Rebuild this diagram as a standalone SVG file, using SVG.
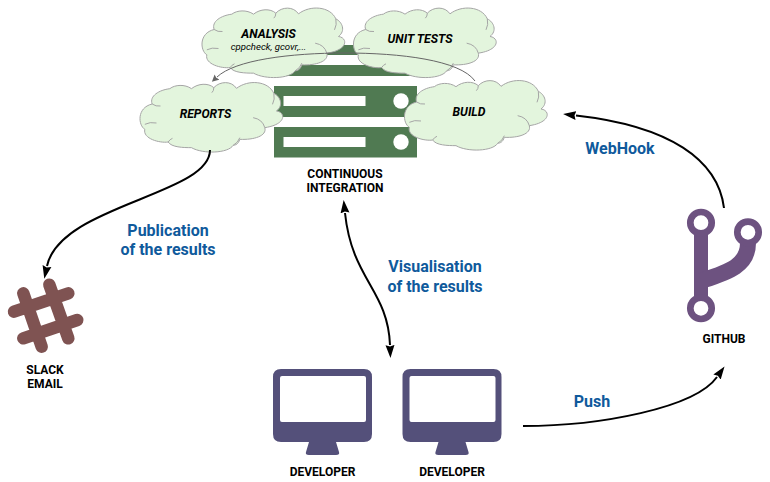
<svg xmlns="http://www.w3.org/2000/svg" width="770" height="482" viewBox="0 0 770 482">
<style>
text{font-family:Roboto,"Liberation Sans",sans-serif;text-anchor:middle}
.n{font-size:12px;font-weight:700;fill:#000}
.c{font-size:12.200px;font-weight:700;font-style:italic;fill:#000}
.l{font-size:16px;font-weight:700;fill:#0f5a9c}
.w{fill:#e3f5dd;stroke:#a5a5a5;stroke-width:3}
.i{fill:none;stroke:#a5a5a5;stroke-width:3}
.a{fill:none;stroke:#000;stroke-width:2}
</style>
<defs>
<marker id="m" markerUnits="userSpaceOnUse" markerWidth="14" markerHeight="10" refX="0" refY="5" orient="auto-start-reverse"><path d="M0 .5L13 5L0 9.500L1.500 5Z" fill="#000"/></marker>
<marker id="s" markerUnits="userSpaceOnUse" markerWidth="8" markerHeight="8" refX="0" refY="4" orient="auto"><path d="M0 .5L7 4L0 7.500L1 4Z" fill="#666"/></marker>
<g id="cloud">
<path class="w" d="M47 84C38 60 68 42 100 38C115 26 145 24 165 38C185 22 215 20 232 35C250 15 285 14 300 37C335 10 395 14 412 52C432 62 442 88 420 105C447 108 452 145 385 155C392 180 352 192 310 190C305 205 298 207 290 208C275 232 200 235 165 215C140 215 105 214 95 198C70 202 18 188 25 160C5 148 0 95 47 84Z"/>
<path class="i" d="M47 84Q58 92 72 90M25 145Q40 137 60 141M95 198Q100 190 108 187M290 208Q305 200 310 185M385 155Q378 130 350 125M412 52Q416 70 408 85M232 35Q232 45 226 50"/>
</g>
</defs>
<g id="ci-server" fill="#507a52">
<rect x="274" y="45" width="143" height="31"/>
<rect x="274" y="86" width="143" height="31"/>
<rect x="274" y="127" width="143" height="30.500"/>
<g fill="#fff"><rect x="283.500" y="55" width="82" height="10"/><rect x="283.500" y="96" width="82" height="10"/><rect x="283.500" y="137" width="82" height="10"/><circle cx="401" cy="60" r="7.700"/><circle cx="401" cy="101" r="7.700"/><circle cx="401" cy="142" r="7.700"/></g>
<text class="n" x="345" y="178">CONTINUOUS</text><text class="n" x="345" y="192">INTEGRATION</text>
</g>
<g id="analysis"><use href="#cloud" transform="translate(198.500,1.500) scale(.3333)"/><text class="c" x="268.500" y="38">ANALYSIS</text><text x="268.500" y="50" font-size="9.600" font-style="italic" fill="#000">cppcheck, gcovr,...</text></g>
<g id="unit-tests"><use href="#cloud" transform="translate(350,1.500) scale(.3333)"/><text class="c" x="420" y="43">UNIT TESTS</text></g>
<g id="reports"><use href="#cloud" transform="translate(136.500,76) scale(.3333)"/><text class="c" x="205.500" y="118">REPORTS</text></g>
<g id="build"><use href="#cloud" transform="translate(401,74) scale(.3333)"/><text class="c" x="469" y="116">BUILD</text></g>
<g id="slack" fill="none" stroke="#7f5352" stroke-width="12.500" stroke-linecap="round">
<path d="M23.300 293.300L41.700 346.700M49.300 284.700L68.300 338.300M14 311.700L68.300 293.300M23.300 338.300L77.300 320"/>
<text class="n" x="45" y="374" fill="#000" stroke="none">SLACK</text><text class="n" x="45" y="388" fill="#000" stroke="none">EMAIL</text>
</g>
<g id="github" fill="none" stroke="#6d5280">
<path stroke-width="14" d="M701 233V298"/><path stroke-width="16" d="M748 243C748 266 728 272 701 281"/>
<circle cx="701" cy="222.700" r="10.700" stroke-width="6.700" fill="#fff"/><circle cx="701" cy="308.300" r="10.700" stroke-width="6.700" fill="#fff"/><circle cx="748" cy="232.300" r="10.700" stroke-width="6.700" fill="#fff"/>
<text class="n" x="724" y="343" stroke="none" fill="#000">GITHUB</text>
</g>
<g id="developer-1"><path fill="#54507a" fill-rule="evenodd" d="M281 369H364Q372 369 372 377V434Q372 442 364 442H336L339 452Q340 455 336 455H309Q305 455 306 452L309 442H281Q273 442 273 434V377Q273 369 281 369ZM282 376Q280 376 280 378V420Q280 422 282 422H364Q366 422 366 420V378Q366 376 364 376Z"/><text class="n" x="322.500" y="476">DEVELOPER</text></g>
<g id="developer-2"><path transform="translate(129.500,0)" fill="#54507a" fill-rule="evenodd" d="M281 369H364Q372 369 372 377V434Q372 442 364 442H336L339 452Q340 455 336 455H309Q305 455 306 452L309 442H281Q273 442 273 434V377Q273 369 281 369ZM282 376Q280 376 280 378V420Q280 422 282 422H364Q366 422 366 420V378Q366 376 364 376Z"/><text class="n" x="452" y="476">DEVELOPER</text></g>
<g id="connectors">
<path d="M475 81C460 60 400 53 345 53C290 53 235 60 217 77" fill="none" stroke="#666" stroke-width="1" marker-end="url(#s)"/>
<path class="a" d="M210 150C210 195 60 205 47 266" marker-end="url(#m)"/>
<path class="a" d="M345 213C352 280 388 290 390 345" marker-start="url(#m)" marker-end="url(#m)"/>
<path class="a" d="M523 426C600 426 695 408 717 377" marker-end="url(#m)"/>
<path class="a" d="M724 208C718 160 670 126 576 115.500" marker-end="url(#m)"/>
</g>
<g id="labels">
<text class="l" x="168" y="236">Publication</text><text class="l" x="168" y="255">of the results</text>
<text class="l" x="435" y="272">Visualisation</text><text class="l" x="435" y="292">of the results</text>
<text class="l" x="592" y="407">Push</text>
<text class="l" x="620" y="154">WebHook</text>
</g>
</svg>
